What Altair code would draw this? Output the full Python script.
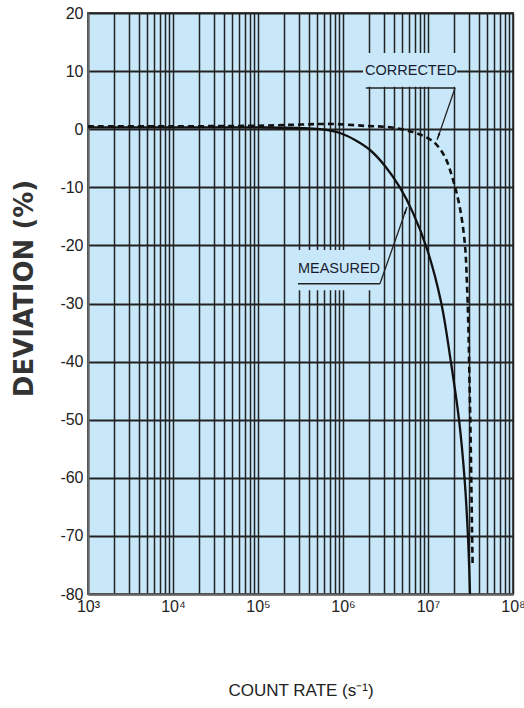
import altair as alt
import pandas as pd

# ---- data ----
measured_rate = [1.0e3, 1.0e4, 1.0e5, 3.2e5, 5.36e5, 9.22e5, 1.384e6, 2.078e6, 3.12e6,
                 4.685e6, 6.66e6, 9.73e6, 1.422e7, 1.865e7, 2.316e7, 2.688e7,
                 2.955e7, 3.12e7]
measured_dev = [0.3, 0.3, 0.3, 0.2, 0.0, -0.65, -1.86, -3.58, -6.33,
                -10.07, -14.4, -20.6, -29.7, -40.2, -50.0, -60.0,
                -70.2, -80.0]

corrected_rate = [1.0e3, 1.0e4, 1.0e5, 3.12e5, 7.62e5, 1.914e6, 3.57e6, 6.66e6, 9.22e6,
                  1.209e7, 1.585e7, 1.968e7, 2.378e7, 2.72e7, 2.876e7, 2.995e7,
                  3.075e7, 3.16e7, 3.23e7, 3.295e7, 3.35e7]
corrected_dev = [0.5, 0.5, 0.6, 0.8, 0.9, 0.55, 0.33, -0.5, -1.3,
                 -2.4, -4.8, -8.7, -13.6, -19.9, -26.8, -34.7,
                 -43.2, -51.8, -60.4, -69.0, -75.0]

x_major = [1e3, 1e4, 1e5, 1e6, 1e7, 1e8]
x_major_labels = ["10³", "10⁴", "10⁵", "10⁶", "10⁷", "10⁸"]
x_grid = [m * k for m in x_major[:-1] for k in range(1, 10)] + [x_major[-1]]
y_ticks = [-80, -70, -60, -50, -40, -30, -20, -10, 0, 10, 20]

# annotations (data coordinates)
label_text = ["CORRECTED", "MEASURED"]
label_x = [6.3e6, 8.97e5]
label_y = [10.0, -24.1]
box_x1 = [1.72e6, 2.95e5]
box_x2 = [2.19e7, 2.88e6]
box_y1 = [7.3, -20.8]
box_y2 = [13.1, -27.7]
under_x1 = [1.86e6, 2.95e5]
under_x2 = [2.08e7, 2.72e6]
under_y = [7.1, -26.6]
tip_x = [1.28e7, 5.66e6]
tip_y = [-1.84, -13.4]
tip_angle = [199, 19]

BG = "#c8e8fa"
SANS = "Liberation Sans, Arial, Helvetica, sans-serif"

df = pd.concat([
    pd.DataFrame({"rate": measured_rate, "dev": measured_dev, "series": "Measured"}),
    pd.DataFrame({"rate": corrected_rate, "dev": corrected_dev, "series": "Corrected"}),
])
ann = pd.DataFrame({
    "text": label_text, "lx": label_x, "ly": label_y,
    "bx1": box_x1, "bx2": box_x2, "by1": box_y1, "by2": box_y2,
    "ux1": under_x1, "ux2": under_x2, "uy": under_y,
    "tx": tip_x, "ty": tip_y, "ang": tip_angle,
})

label_map = "{" + ",".join(f"'{int(v)}':'{l}'" for v, l in zip(x_major, x_major_labels)) + "}"
label_expr = f"{label_map}[''+datum.value] || ''"

xscale = alt.Scale(type="log", domain=[1e3, 1e8], nice=False)
yscale = alt.Scale(domain=[-80, 20], nice=False, zero=False)

x_axis = alt.Axis(
    values=x_grid, labelExpr=label_expr, grid=True, ticks=False, gridWidth=1.5,
    labelOverlap=False, labelFlush=False, labelBound=False,
    labelFont=SANS, labelFontSize=16, labelColor="#222", labelPadding=4,
    title="COUNT RATE (s⁻¹)", titleFont=SANS, titleFontSize=17,
    titleFontWeight="normal", titleColor="#222", titleY=96, titleBaseline="middle",
)
y_axis = alt.Axis(
    values=y_ticks, grid=True, ticks=False, gridWidth=2, labelExpr="'' + datum.value",
    labelFont=SANS, labelFontSize=16,
    labelColor="#222", labelPadding=5, labelOverlap=False, labelFlush=False,
    title="DEVIATION (%)", titleFont="DejaVu Sans", titleFontSize=26,
    titleFontWeight="bold", titleColor="#333", titleX=-64, titleY=275,
    titleBaseline="middle", titleAngle=270,
)

x = alt.X("rate:Q", scale=xscale, axis=x_axis)
y = alt.Y("dev:Q", scale=yscale, axis=y_axis)

measured = alt.Chart(df).transform_filter(alt.datum.series == "Measured").mark_line(
    color="#111", strokeWidth=2.3, interpolate="catmull-rom"
).encode(x=x, y=y, order="rate:Q")

corrected = alt.Chart(df).transform_filter(alt.datum.series == "Corrected").mark_line(
    color="#111", strokeWidth=2.6, strokeDash=[6, 4], interpolate="catmull-rom"
).encode(x=alt.X("rate:Q", scale=xscale), y=alt.Y("dev:Q", scale=yscale), order="rate:Q")

base = alt.Chart(ann)
boxes = base.mark_rect(color=BG).encode(
    x=alt.X("bx1:Q", scale=xscale), x2="bx2:Q",
    y=alt.Y("by1:Q", scale=yscale), y2="by2:Q",
)
texts = base.mark_text(font=SANS, fontSize=14.5, color="#1b1b2e", baseline="middle").encode(
    x=alt.X("lx:Q", scale=xscale), y=alt.Y("ly:Q", scale=yscale), text="text:N"
)
underlines = base.mark_rule(color="#222", strokeWidth=1.6).encode(
    x=alt.X("ux1:Q", scale=xscale), x2="ux2:Q",
    y=alt.Y("uy:Q", scale=yscale),
)
arrows = base.mark_rule(color="#222", strokeWidth=1.3).encode(
    x=alt.X("ux2:Q", scale=xscale), x2="tx:Q",
    y=alt.Y("uy:Q", scale=yscale), y2="ty:Q",
)
heads = base.mark_point(
    shape="M0,0L0.3,1.8L-0.3,1.8Z", filled=True, color="#111", opacity=1, size=60
).encode(
    x=alt.X("tx:Q", scale=xscale), y=alt.Y("ty:Q", scale=yscale), angle=alt.Angle("ang:Q", scale=None)
)

chart = alt.layer(measured, corrected, boxes, texts, underlines, arrows, heads).properties(
    width=425, height=581,
    autosize=alt.AutoSizeParams(type="none"),
    padding={"left": 88, "top": 13, "right": 11, "bottom": 114},
    background="white",
).configure_view(
    fill=BG, stroke="#555", strokeWidth=2
).configure_axis(
    gridColor="#222", gridOpacity=1,
    domainColor="#666", domainWidth=2,
)

chart.save("out.html", embed_options={"renderer": "svg", "actions": False})
